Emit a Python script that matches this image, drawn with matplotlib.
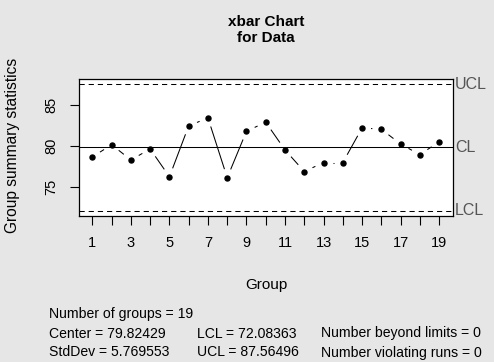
import numpy as np
import matplotlib
matplotlib.use("Agg")
import matplotlib.pyplot as plt

# group means
groups = np.arange(1, 20)
means = [78.67, 80.16, 78.30, 79.64, 76.25, 82.46, 83.43, 76.13, 81.81, 82.90,
         79.52, 76.89, 77.98, 77.98, 82.21, 82.05, 80.24, 78.95, 80.52]
center = 79.82429
lcl = 72.08363
ucl = 87.56496
stddev = 5.769553
x_ticks = list(range(1, 20))
x_labels = [str(i) if i % 2 == 1 else "" for i in x_ticks]
y_ticks = [75, 80, 85]

plt.rcParams['font.family'] = ['Liberation Sans', 'DejaVu Sans']
bg = '#e6e6e6'

fig = plt.figure(figsize=(4.94, 3.62), dpi=100, facecolor=bg)
W, H = 494, 362
left, right, top, bottom = 78.5, 453, 79, 216
ax = fig.add_axes([left / W, 1 - bottom / H, (right - left) / W, (bottom - top) / H])
ax.set_facecolor('white')

ax.set_xlim(0.28, 19.72)
ax.set_ylim(71.46, 88.18)

# control limits
ax.axhline(center, color='black', lw=0.75)
ax.axhline(ucl, color='black', lw=0.75, dashes=(5, 3.8))
ax.axhline(lcl, color='black', lw=0.75, dashes=(5, 3.8))

# type="b" style: segments with gaps around the points
fig.canvas.draw()
pts = ax.transData.transform(np.column_stack([groups, means]))
gap = 9
inv = ax.transData.inverted()
for p0, p1 in zip(pts[:-1], pts[1:]):
    d = p1 - p0
    L = np.hypot(*d)
    if L <= 2 * gap:
        continue
    u = d / L
    a = inv.transform(p0 + u * gap)
    b = inv.transform(p1 - u * gap)
    ax.plot([a[0], b[0]], [a[1], b[1]], color='black', lw=0.75, solid_capstyle='butt')
ax.plot(groups, means, 'o', color='black', ms=3.6)

for s in ax.spines.values():
    s.set_linewidth(0.9)

ax.set_xticks(x_ticks)
ax.set_xticklabels(x_labels)
ax.set_yticks(y_ticks)
ax.set_yticklabels([str(v) for v in y_ticks], rotation=90, va='center')
ax.tick_params(axis='both', direction='out', length=6.5, width=0.8, labelsize=10.5,
               colors='black', pad=8)

# labels on the right
trans = ax.get_yaxis_transform()
for val, lab in [(ucl, 'UCL'), (center, 'CL'), (lcl, 'LCL')]:
    ax.text(1.006, val, lab, transform=trans, ha='left', va='center',
            fontsize=11.5, color='#555555')

fig.text(266 / W, 1 - 30 / H, "xbar Chart\nfor Data", ha='center', va='center',
         fontsize=11, fontweight='bold', linespacing=1.2)
fig.text(266 / W, 1 - 285 / H, "Group", ha='center', va='center', fontsize=11)
fig.text(13 / W, 1 - 145 / H, "Group summary statistics", ha='center', va='center',
         rotation=90, fontsize=11.2)

# summary statistics
stats_rows = [
    (314, [(49, "Number of groups = %d" % len(means))]),
    (333.5, [(49, "Center = %.5f" % center), (197, "LCL = %.5f" % lcl),
             (321, "Number beyond limits = 0")]),
    (352.5, [(49, "StdDev = %.6f" % stddev), (197, "UCL = %.5f" % ucl),
             (321, "Number violating runs = 0")]),
]
for y, items in stats_rows:
    for x, s in items:
        fig.text(x / W, 1 - y / H, s, ha='left', va='center', fontsize=10.1)

fig.savefig("out.png", dpi=100, facecolor=bg)
